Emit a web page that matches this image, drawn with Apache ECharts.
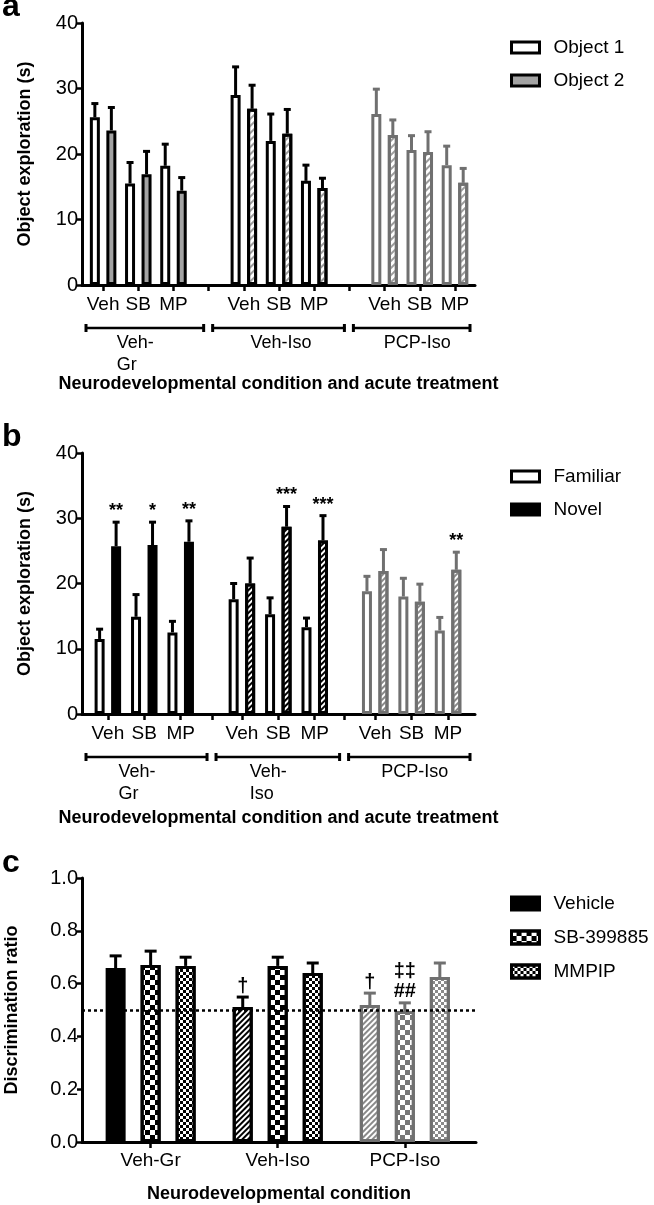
<!DOCTYPE html>
<html><head><meta charset="utf-8">
<script src="https://cdn.jsdelivr.net/npm/echarts@6/dist/echarts.min.js"></script>
<style>html,body{margin:0;padding:0;background:#fff}#c{width:654px;height:1205px}</style>
</head><body><div id="c"></div>
<script>
// ================= DATA =================
const treatments = ['Veh', 'SB', 'MP'];
const conditions = ['Veh-Gr', 'Veh-Iso', 'PCP-Iso'];
const groupLabelsA = ['Veh-\nGr', 'Veh-Iso', 'PCP-Iso'];
const groupLabelsB = ['Veh-\nGr', 'Veh-\nIso', 'PCP-Iso'];
const legendA = ['Object 1', 'Object 2'];
const legendB = ['Familiar', 'Novel'];
const legendC = ['Vehicle', 'SB-399885', 'MMPIP'];

// Panel a – order: Veh-Gr (Veh,SB,MP), Veh-Iso (Veh,SB,MP), PCP-Iso (Veh,SB,MP)
const object1Mean = [25.6, 15.5, 18.2, 29.0, 22.0, 15.9, 26.1, 20.6, 18.3];
const object1Top  = [27.7, 18.7, 21.5, 33.3, 26.1, 18.3, 29.9, 22.8, 21.2];
const object2Mean = [23.6, 16.9, 14.4, 26.9, 23.1, 14.8, 22.9, 20.3, 15.6];
const object2Top  = [27.1, 20.4, 16.4, 30.5, 26.8, 16.3, 25.2, 23.4, 17.8];

// Panel b
const familiarMean = [11.5, 14.9, 12.5, 17.6, 15.3, 13.3, 18.8, 18.0, 12.8];
const familiarTop  = [13.0, 18.3, 14.2, 20.0, 17.8, 14.7, 21.1, 20.8, 14.8];
const novelMean    = [25.7, 25.9, 26.4, 20.0, 28.7, 26.6, 21.9, 17.2, 22.1];
const novelTop     = [29.4, 29.4, 29.6, 23.9, 31.8, 30.4, 25.2, 19.9, 24.8];
const novelSig     = ['**', '*', '**', '', '***', '***', '', '', '**'];

// Panel c – order: Veh-Gr, Veh-Iso, PCP-Iso
const vehicleMean = [0.659, 0.511, 0.519];
const vehicleTop  = [0.705, 0.549, 0.564];
const sbMean      = [0.670, 0.667, 0.496];
const sbTop       = [0.723, 0.700, 0.527];
const mmpipMean   = [0.667, 0.640, 0.625];
const mmpipTop    = [0.700, 0.678, 0.678];
const vehicleSig  = ['', '\u2020', '\u2020'];
const sbSig       = ['', '', '\u2021\u2021\n##'];
const mmpipSig    = ['', '', ''];
const chanceLevel = 0.5;

// ================= LAYOUT (axis slots) =================
const slotsA = [0, 1, 2, 4, 5, 6, 8, 9, 10];
const dividersA = [3, 7];
const rangeA = [-0.6, 10.57];
const slotsB = [0, 1, 2, 3.68, 4.68, 5.68, 7.34, 8.34, 9.34];
const dividersB = [2.86, 6.5];
const rangeB = [-0.71, 10.08];
const slotsC = [0, 1, 2];
const rangeC = [-0.54, 2.56];

// ================= STYLE =================
const FONT = '"Liberation Sans", Arial, Helvetica, sans-serif';
const K = '#000000';
const G = '#707070';
const GRAY_FILL = '#a3a3a3';
const groupOf3 = i => Math.floor(i / 3);
const groupOf1 = i => i;
const errColors = [K, K, G];

const hatch = (color, line, gap) => ({symbol: 'rect', symbolSize: 1, symbolKeepAspect: false,
  dashArrayX: [1, 0], dashArrayY: [line, gap], rotation: -Math.PI / 4, color});
const checker = (color, s) => ({symbol: 'rect', symbolSize: 1, symbolKeepAspect: false,
  dashArrayX: [[s, s], [0, s, s, 0]], dashArrayY: [s, 0], color});
const st = (fill, border, decal) => decal ? {color: fill, borderColor: border, borderWidth: 3, decal}
                                          : {color: fill, borderColor: border, borderWidth: 3};

const styleA1 = [st('#fff', K), st('#fff', K), st('#fff', G)];
const styleA2 = [st(GRAY_FILL, K), st('#fff', K, hatch('#9c9c9c', 1.2, 2.3)), st('#fff', G, hatch('#9c9c9c', 1.2, 2.3))];
const styleB1 = [st('#fff', K), st('#fff', K), st('#fff', G)];
const styleB2 = [st(K, K), st('#fff', K, hatch(K, 1.6, 2)), st('#fff', G, hatch('#8a8a8a', 1.6, 2))];
const styleC1 = [st(K, K), st('#fff', K, hatch(K, 1.6, 2)), st('#fff', G, hatch('#8a8a8a', 1.6, 2))];
const styleC2 = [st('#fff', K, checker(K, 5)), st('#fff', K, checker(K, 5)), st('#fff', G, checker('#777', 5))];
const styleC3 = [st('#fff', K, checker(K, 2.5)), st('#fff', K, checker(K, 2.5)), st('#fff', G, checker('#8a8a8a', 2.5))];

function barSeries(name, gi, xs, means, styles, groupOf, w, gap, extra) {
  return Object.assign({
    type: 'bar', name, xAxisIndex: gi, yAxisIndex: gi, barWidth: w, barGap: gap,
    silent: true, animation: false, itemStyle: styles[0],
    data: xs.map((x, i) => ({value: [x, means[i]], itemStyle: styles[groupOf(i)]}))
  }, extra || {});
}

function errSeries(gi, xs, means, tops, groupOf, offset, capHalf, marks, markFont) {
  return {
    type: 'custom', xAxisIndex: gi, yAxisIndex: gi, silent: true, animation: false, clip: false, z: 4,
    encode: {x: 0, y: 1},
    data: xs.map((x, i) => [x, tops[i], means[i], i]),
    renderItem(params, api) {
      const i = api.value(3);
      const p0 = api.coord([api.value(0), api.value(2)]);
      const p1 = api.coord([api.value(0), api.value(1)]);
      const cx = p0[0] + offset;
      const col = errColors[groupOf(i)];
      const children = [
        {type: 'line', shape: {x1: cx, y1: p0[1], x2: cx, y2: p1[1]}, style: {stroke: col, lineWidth: 3}},
        {type: 'line', shape: {x1: cx - capHalf, y1: p1[1], x2: cx + capHalf, y2: p1[1]}, style: {stroke: col, lineWidth: 3}}
      ];
      if (marks && marks[i]) {
        children.push({type: 'text', style: {text: marks[i], x: cx, y: p1[1] - 1, align: 'center',
          verticalAlign: 'bottom', font: markFont || ('bold 18px ' + FONT), fill: K, lineHeight: 20}});
      }
      return {type: 'group', children};
    }
  };
}

function bracketSeries(gi, range, dividers, labels) {
  const bounds = [range[0], ...dividers, range[1]];
  return {
    type: 'custom', xAxisIndex: gi, yAxisIndex: gi, silent: true, animation: false, clip: false,
    encode: {x: 0, y: 2},
    data: labels.map((l, i) => [bounds[i], bounds[i + 1], 0, i]),
    renderItem(params, api) {
      const a = api.coord([api.value(0), 0]);
      const b = api.coord([api.value(1), 0]);
      const y = a[1] + 43;
      const x1 = a[0] + 3, x2 = b[0] - 4;
      const cxm = (x1 + x2) / 2;
      return {type: 'group', children: [
        {type: 'line', shape: {x1, y1: y, x2, y2: y}, style: {stroke: K, lineWidth: 2.5}},
        {type: 'line', shape: {x1: x1 + 1, y1: y - 4, x2: x1 + 1, y2: y + 4}, style: {stroke: K, lineWidth: 3}},
        {type: 'line', shape: {x1: x2 - 1, y1: y - 4, x2: x2 - 1, y2: y + 4}, style: {stroke: K, lineWidth: 3}},
        {type: 'text', style: {text: labels[api.value(3)], x: cxm - 28, y: y + 4, align: 'left', verticalAlign: 'top',
          font: '18px ' + FONT, fill: K, lineHeight: 22}}
      ]};
    }
  };
}

const axisLine = {show: true, onZero: false, lineStyle: {color: K, width: 3}};
const nameStyle = {fontWeight: 'bold', fontSize: 18, color: K, fontFamily: FONT};

function xAxisTreat(gi, slots, dividers, range, name, nameGap) {
  return {
    gridIndex: gi, type: 'value', min: range[0], max: range[1],
    axisLine, splitLine: {show: false},
    axisTick: {show: true, customValues: slots.concat(dividers), length: 6, lineStyle: {color: K, width: 2.5}},
    axisLabel: {customValues: slots, fontSize: 19, color: K, fontFamily: FONT, margin: 10,
      formatter: v => { const i = slots.findIndex(s => Math.abs(s - v) < 1e-6); return i < 0 ? '' : treatments[i % 3]; }},
    name, nameLocation: 'middle', nameGap, nameTextStyle: nameStyle
  };
}

function yAxisDef(gi, max, interval, name, nameGap, fmt) {
  return {
    gridIndex: gi, type: 'value', min: 0, max, interval,
    axisLine, splitLine: {show: false},
    axisTick: {show: true, length: 5, lineStyle: {color: K, width: 2.5}},
    axisLabel: {fontSize: 20, color: K, fontFamily: FONT, margin: 4, formatter: fmt},
    name, nameLocation: 'middle', nameRotate: 90, nameGap, nameTextStyle: nameStyle
  };
}

function legendDef(names, top, ih, gap) {
  return {data: names, orient: 'vertical', left: 505, top, itemWidth: 28, itemHeight: ih, itemGap: gap,
    icon: 'rect', selectedMode: false, itemStyle: {borderWidth: 3},
    textStyle: {fontSize: 19, color: K, fontFamily: FONT, padding: [0, 0, 0, 9]}};
}

const panelLabel = (t, top) => ({text: t, left: 2, top, padding: 0,
  textStyle: {fontSize: 32, fontWeight: 'bold', color: K, fontFamily: FONT}});

const WA = 10, GAPA = 0.65, OFFA = (WA + WA * GAPA) / 2;
const WC = 20, GAPC = 0.75, OFFC = WC + WC * GAPC;
const DAGGER_FONT = 'bold 20px ' + FONT;
const gridBase = {containLabel: false, outerBoundsMode: 'none'};

const option = {
  animation: false,
  textStyle: {fontFamily: FONT},
  title: [panelLabel('a', -9), panelLabel('b', 421), panelLabel('c', 847)],
  legend: [legendDef(legendA, 33, 11, 14), legendDef(legendB, 462, 11, 14), legendDef(legendC, 889, 13, 15)],
  grid: [
    Object.assign({left: 82, top: 23, width: 393, height: 262}, gridBase),
    Object.assign({left: 82, top: 453, width: 393, height: 261}, gridBase),
    Object.assign({left: 82, top: 878, width: 394, height: 264}, gridBase)
  ],
  xAxis: [
    xAxisTreat(0, slotsA, dividersA, rangeA, 'Neurodevelopmental condition and acute treatment', 90),
    xAxisTreat(1, slotsB, dividersB, rangeB, 'Neurodevelopmental condition and acute treatment', 95),
    {
      gridIndex: 2, type: 'value', min: rangeC[0], max: rangeC[1], axisLine, splitLine: {show: false},
      axisTick: {show: true, customValues: slotsC, length: 6, lineStyle: {color: K, width: 2.5}},
      axisLabel: {customValues: slotsC, fontSize: 19, color: K, fontFamily: FONT, margin: 9,
        formatter: v => conditions[Math.round(v)]},
      name: 'Neurodevelopmental condition', nameLocation: 'middle', nameGap: 43, nameTextStyle: nameStyle
    }
  ],
  yAxis: [
    yAxisDef(0, 40, 10, 'Object exploration (s)', 48),
    yAxisDef(1, 40, 10, 'Object exploration (s)', 48),
    yAxisDef(2, 1, 0.2, 'Discrimination ratio', 61, v => v.toFixed(1))
  ],
  series: [
    barSeries('Object 1', 0, slotsA, object1Mean, styleA1, groupOf3, WA, (GAPA * 100) + '%'),
    barSeries('Object 2', 0, slotsA, object2Mean, styleA2, groupOf3, WA, (GAPA * 100) + '%'),
    errSeries(0, slotsA, object1Mean, object1Top, groupOf3, -OFFA, 3.5),
    errSeries(0, slotsA, object2Mean, object2Top, groupOf3, OFFA, 3.5),
    bracketSeries(0, rangeA, dividersA, groupLabelsA),

    barSeries('Familiar', 1, slotsB, familiarMean, styleB1, groupOf3, WA, (GAPA * 100) + '%'),
    barSeries('Novel', 1, slotsB, novelMean, styleB2, groupOf3, WA, (GAPA * 100) + '%'),
    errSeries(1, slotsB, familiarMean, familiarTop, groupOf3, -OFFA, 3.5),
    errSeries(1, slotsB, novelMean, novelTop, groupOf3, OFFA, 3.5, novelSig),
    bracketSeries(1, rangeB, dividersB, groupLabelsB),

    barSeries('Vehicle', 2, slotsC, vehicleMean, styleC1, groupOf1, WC, (GAPC * 100) + '%', {
      markLine: {silent: true, animation: false, symbol: ['none', 'none'], label: {show: false},
        emphasis: {disabled: true}, lineStyle: {color: K, width: 2.5, type: [3, 3]},
        data: [{yAxis: chanceLevel}]}
    }),
    barSeries('SB-399885', 2, slotsC, sbMean, styleC2, groupOf1, WC, (GAPC * 100) + '%'),
    barSeries('MMPIP', 2, slotsC, mmpipMean, styleC3, groupOf1, WC, (GAPC * 100) + '%'),
    errSeries(2, slotsC, vehicleMean, vehicleTop, groupOf1, -OFFC, 6, vehicleSig, DAGGER_FONT),
    errSeries(2, slotsC, sbMean, sbTop, groupOf1, 0, 6, sbSig, DAGGER_FONT),
    errSeries(2, slotsC, mmpipMean, mmpipTop, groupOf1, OFFC, 6, mmpipSig, DAGGER_FONT)
  ]
};

const chart = echarts.init(document.getElementById('c'), null, {renderer: 'canvas'});
chart.setOption(option);
</script>
</body></html>
